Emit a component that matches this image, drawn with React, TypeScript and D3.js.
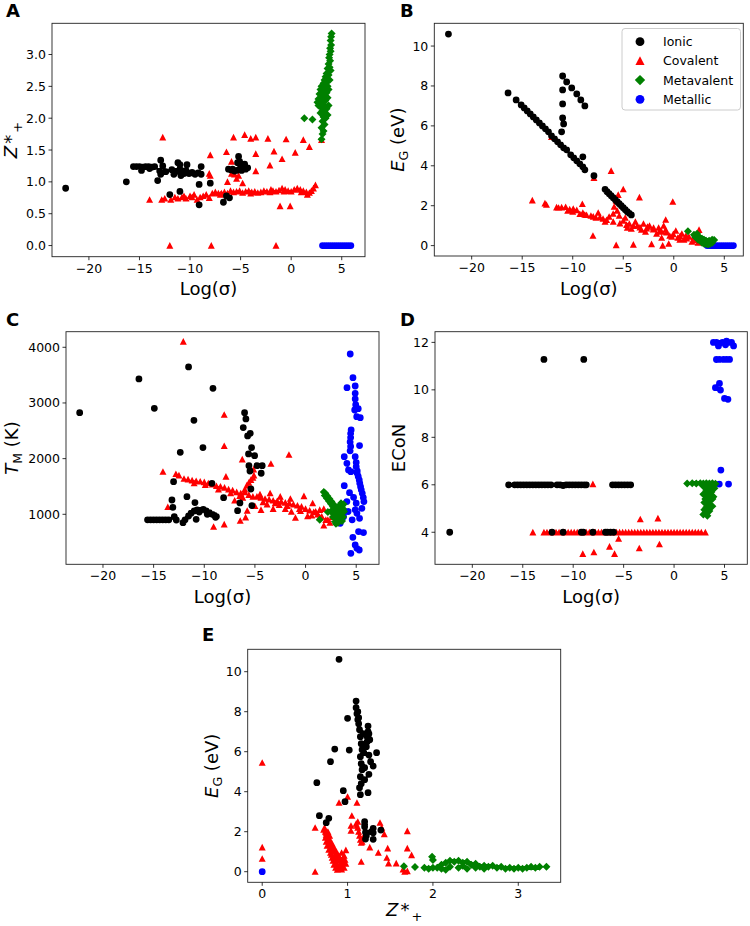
import React from 'react';
import * as d3 from 'd3';

type Pt = [number, number];

// ---------------- Panel A: Log(σ) vs Z*+ ----------------
const ionicA: Pt[] = [
  [-22.3, 0.9], [-16.3, 1.0],
  [-15.6, 1.24], [-15.3, 1.24], [-15.0, 1.24], [-14.7, 1.23], [-14.4, 1.24], [-14.1, 1.24], [-13.8, 1.23], [-13.5, 1.24], [-14.8, 1.18], [-14.0, 1.21],
  [-13.2, 1.02], [-12.9, 1.34], [-12.7, 1.25], [-13.0, 1.17], [-12.9, 1.12], [-12.4, 1.16],
  [-11.8, 1.19], [-11.5, 1.15], [-11.3, 1.17], [-11.0, 1.27], [-11.0, 1.2], [-10.8, 1.15], [-10.6, 1.13], [-10.4, 1.18], [-10.1, 1.13], [-9.8, 1.15], [-9.5, 1.12], [-9.2, 1.14], [-8.9, 1.12], [-8.9, 1.24], [-11.2, 1.3], [-10.3, 1.27], [-11.6, 1.12], [-10.9, 1.1], [-9.6, 1.13],
  [-12.0, 0.8], [-11.0, 0.85], [-9.1, 0.96], [-8.0, 0.98], [-9.1, 0.64], [-6.7, 0.68], [-6.4, 0.78], [-6.1, 0.75],
  [-6.2, 1.2], [-6.0, 1.19], [-5.8, 1.2], [-5.7, 1.18], [-5.4, 1.18], [-5.2, 1.4], [-5.3, 1.3], [-5.0, 1.25], [-4.9, 1.18], [-4.6, 1.28], [-4.5, 1.2], [-4.3, 1.22], [-5.6, 1.17], [-5.1, 1.32],
];
const covalentA: Pt[] = [
  [-12.0, 0], [-7.9, 0], [-1.5, 0],
  [-12.7, 1.7], [-8.0, 1.42], [-6.4, 1.47], [-5.7, 1.7], [-4.6, 1.74], [-4.0, 1.68], [-3.5, 1.7], [-2.3, 1.68], [-0.5, 1.67], [1.2, 1.66], [1.8, 1.55], [-1.7, 1.48], [0.4, 1.46], [-3.5, 1.44], [-2.1, 1.26], [-0.9, 1.36], [-3.5, 1.17], [-5.9, 1.32], [-8.1, 1.13], [-8.0, 1.1], [-6.3, 1.0], [-5.4, 1.05], [-5.6, 1.12], [-5.2, 1.1], [-4.8, 0.98], [-5.9, 1.13],
  [-1.1, 0.62], [-0.1, 0.62], [3.0, 1.66],
  [-14.0, 0.72], [-12.8, 0.72], [-12.5, 0.74], [-11.9, 0.72], [-11.5, 0.76], [-11.2, 0.74], [-10.8, 0.76], [-10.4, 0.74], [-10.0, 0.78], [-9.6, 0.8], [-9.3, 0.72], [-9.0, 0.76], [-8.7, 0.78], [-8.4, 0.8], [-8.1, 0.75], [-7.8, 0.82], [-7.5, 0.84], [-7.2, 0.82], [-6.9, 0.82], [-6.6, 0.84], [-6.3, 0.82], [-6.0, 0.86], [-5.7, 0.84], [-5.4, 0.85], [-5.1, 0.86], [-4.8, 0.83], [-4.5, 0.85], [-4.2, 0.86], [-3.9, 0.84], [-3.6, 0.85], [-3.3, 0.83], [-3.0, 0.84], [-2.7, 0.86], [-2.4, 0.85], [-2.1, 0.84], [-1.8, 0.86], [-1.5, 0.85], [-1.2, 0.87], [-0.9, 0.9], [-0.6, 0.88], [-0.3, 0.86], [0.0, 0.85], [0.3, 0.88], [0.6, 0.9], [0.9, 0.88], [1.2, 0.86], [1.5, 0.84], [1.8, 0.83], [2.0, 0.86], [2.2, 0.9], [2.4, 0.95],
  [-10.6, 0.78], [-9.8, 0.76], [-7.0, 0.8], [-4.0, 0.82], [-2.0, 0.88], [-0.7, 0.85], [1.0, 0.84], [1.6, 0.8],
];
const metavalentA: Pt[] = [
  [4.0, 3.33], [3.95, 3.28], [3.9, 3.22], [3.95, 3.15], [3.85, 3.1], [3.9, 3.05], [3.8, 3.0], [3.75, 2.95], [3.85, 2.9], [3.7, 2.85], [3.8, 2.8], [3.6, 2.78], [3.9, 2.75], [3.5, 2.7], [3.7, 2.68], [3.4, 2.65], [3.8, 2.6], [3.3, 2.6], [3.55, 2.58], [3.2, 2.55], [3.6, 2.5], [3.0, 2.5], [3.4, 2.48], [3.7, 2.45], [2.9, 2.45], [3.2, 2.42], [3.5, 2.4], [2.8, 2.38], [3.05, 2.35], [3.3, 2.35], [3.6, 2.32], [2.7, 2.3], [3.0, 2.28], [3.4, 2.28], [2.6, 2.25], [3.2, 2.22], [3.7, 2.2], [2.7, 2.2], [2.9, 2.18], [3.5, 2.15], [3.1, 2.12], [3.3, 2.1], [2.9, 2.08], [3.6, 2.05], [3.2, 2.02], [3.4, 2.0], [2.1, 1.98], [1.3, 2.0], [3.1, 1.95], [3.3, 1.9], [3.0, 1.85], [3.2, 1.8], [3.1, 1.75], [3.0, 1.67],
];
const metallicA: Pt[] = [
  [3.1, 0], [3.3, 0], [3.5, 0], [3.7, 0], [3.9, 0], [4.1, 0], [4.3, 0], [4.5, 0], [4.7, 0], [4.9, 0], [5.1, 0], [5.3, 0], [5.5, 0], [5.7, 0], [5.9, 0],
];

// ---------------- Panel B: Log(σ) vs E_G ----------------
const ionicB: Pt[] = [
  [-22.3, 10.6],
  [-16.4, 7.65], [-15.6, 7.3], [-15.1, 7.05], [-14.8, 6.9], [-14.5, 6.75], [-14.2, 6.6], [-13.9, 6.45], [-13.6, 6.3], [-13.3, 6.15], [-13.0, 6.0], [-12.7, 5.85], [-12.4, 5.7], [-12.1, 5.5], [-11.8, 5.35], [-11.5, 5.2], [-11.2, 5.05], [-10.9, 4.9], [-10.6, 4.8], [-10.2, 4.55], [-9.9, 4.4], [-9.6, 4.25], [-9.3, 4.1], [-9.0, 3.95], [-8.8, 3.8],
  [-11.0, 8.5], [-11.0, 7.8], [-11.0, 7.1], [-11.0, 6.4], [-10.9, 6.1], [-11.1, 5.7],
  [-10.6, 8.2], [-10.1, 7.9], [-9.6, 7.6], [-9.2, 7.3], [-8.8, 7.0],
  [-9.0, 4.45], [-7.9, 3.5],
  [-6.8, 2.82], [-6.6, 2.7], [-6.4, 2.6], [-6.2, 2.5], [-6.0, 2.4], [-5.8, 2.3], [-5.6, 2.2], [-5.4, 2.1], [-5.2, 2.0], [-5.0, 1.9], [-4.8, 1.8], [-4.6, 1.7], [-4.4, 1.62], [-4.2, 1.54],
];
const covalentB: Pt[] = [
  [-14.0, 2.27], [-12.75, 2.12], [-12.6, 2.05], [-11.6, 1.92], [-11.1, 1.92], [-10.7, 1.94], [-10.3, 1.82], [-9.95, 1.85], [-9.6, 1.78], [-9.05, 2.09], [-9.29, 1.59], [-8.63, 1.54], [-7.97, 1.46], [-7.48, 1.65], [-7.31, 1.42], [-6.65, 1.29], [-5.99, 1.2], [-5.33, 1.12], [-4.67, 1.04], [-4.0, 0.99], [-3.35, 0.92], [-2.69, 0.87], [-2.03, 0.82], [-1.37, 0.75], [-0.71, 0.67], [-0.05, 0.58], [0.62, 0.48], [1.28, 0.37], [1.94, 0.28], [2.5, 0.79],
  [-12.1, 5.45], [-7.9, 3.4], [-6.2, 3.75], [-5.0, 2.83], [-5.9, 1.95], [-5.7, 2.25], [-5.5, 2.55], [-3.4, 2.42], [-0.1, 2.2], [-8.0, 0.5], [-5.7, 0.03], [-4.0, 0.05], [-2.2, 0.08], [-1.1, 0.0], [-0.5, 0.1],
  [-10.0, 1.7], [-9.0, 1.65], [-8.2, 1.5], [-7.0, 1.35], [-6.4, 1.45], [-6.0, 1.6], [-5.6, 1.75], [-5.4, 1.5], [-5.0, 1.25], [-4.8, 1.4], [-4.4, 1.1], [-4.2, 0.85], [-3.8, 1.2], [-3.6, 1.0], [-3.0, 1.1], [-2.8, 0.7], [-2.4, 1.0], [-2.0, 0.9], [-1.7, 0.6], [-1.5, 0.9], [-1.0, 1.0], [-0.8, 0.8], [-0.4, 0.5], [0.2, 0.75], [0.4, 0.4], [0.8, 0.6], [1.0, 0.3], [1.5, 0.45], [1.8, 0.2], [2.2, 0.35], [2.4, 0.15], [-11.4, 1.9], [-10.5, 1.75], [-8.8, 1.55], [-7.7, 1.4], [-6.8, 1.2], [-4.6, 0.9], [-3.2, 0.8], [-2.6, 0.95], [-1.2, 0.7], [-0.2, 0.45], [0.6, 0.3], [1.2, 0.5], [2.0, 0.45], [-1.2, 0.4], [-0.8, 1.3],
];
const metavalentB: Pt[] = [
  [1.4, 0.72], [2.0, 0.55], [2.1, 0.45], [2.2, 0.52], [2.3, 0.6], [2.4, 0.45], [2.5, 0.35], [2.6, 0.4], [2.7, 0.3], [2.8, 0.35], [2.9, 0.25], [3.0, 0.3], [3.1, 0.2], [3.2, 0.25], [3.3, 0.15], [3.4, 0.2], [3.5, 0.25], [3.6, 0.2], [3.7, 0.25], [3.8, 0.3], [3.9, 0.25], [4.0, 0.28], [2.8, 0.15], [3.0, 0.1], [3.2, 0.08], [3.4, 0.05], [3.6, 0.1], [2.6, 0.25], [2.4, 0.3], [3.8, 0.15],
];
const metallicB: Pt[] = [
  [3.3, 0], [3.5, 0], [3.7, 0], [3.9, 0], [4.1, 0], [4.3, 0], [4.5, 0], [4.7, 0], [4.9, 0], [5.1, 0], [5.3, 0], [5.5, 0], [5.7, 0], [5.9, 0],
];

// ---------------- Panel C: Log(σ) vs T_M ----------------
const ionicC: Pt[] = [
  [-22.3, 2826], [-16.45, 3431], [-14.93, 2904], [-11.55, 3647], [-11.02, 2689], [-10.13, 2198], [-9.14, 3263], [-9.24, 1557], [-8.09, 1299], [-8.88, 946],
  [-15.6, 900], [-15.3, 900], [-15.0, 900], [-14.7, 900], [-14.4, 900], [-14.1, 900], [-13.8, 900], [-13.5, 900],
  [-13.19, 1257], [-13.03, 1587], [-13.1, 1126], [-12.96, 958], [-12.76, 898], [-12.37, 2114], [-12.1, 850], [-11.71, 1317], [-11.55, 970], [-11.9, 900], [-10.92, 1210], [-10.8, 910],
  [-11.3, 1020], [-11.0, 1060], [-10.7, 1080], [-10.4, 1070], [-10.1, 1090], [-9.8, 1060], [-9.5, 1030], [-9.2, 1000], [-9.0, 980], [-8.8, 960], [-10.5, 1040], [-9.7, 1000],
  [-6.02, 2826], [-5.89, 2713], [-6.15, 2557], [-5.72, 2407], [-5.46, 2455], [-5.33, 2198], [-5.63, 2084], [-5.03, 2054], [-5.59, 1874], [-5.49, 1778], [-4.8, 1874], [-4.28, 1874], [-4.38, 1737], [-5.4, 1455], [-5.3, 1156], [-6.48, 1204], [-6.71, 1066],
];
const covalentC: Pt[] = [
  [-12.07, 4102], [-8.03, 2790], [-8.03, 2228], [-1.64, 2072], [-3.42, 1910], [-14.08, 1766], [-12.8, 1725], [-9.08, 778], [-8.03, 820], [-6.45, 886], [-5.92, 946], [-5.76, 1066], [-6.25, 1988], [-5.13, 1808], [-7.86, 1677], [-13.6, 1132], [-0.16, 1329],
  [-12.5, 1700], [-12.0, 1640], [-11.6, 1630], [-11.2, 1610], [-10.8, 1600], [-10.4, 1590], [-10.0, 1580], [-9.6, 1560], [-9.2, 1540], [-8.8, 1510], [-8.4, 1500], [-8.0, 1480], [-7.6, 1450], [-7.2, 1430], [-6.8, 1400], [-6.4, 1380], [-6.0, 1400], [-5.6, 1350], [-5.2, 1320], [-4.8, 1320], [-4.4, 1300], [-4.0, 1280], [-3.6, 1270], [-3.2, 1250], [-2.8, 1240], [-2.4, 1230], [-2.0, 1210], [-1.6, 1200], [-1.2, 1180], [-0.8, 1160], [-0.4, 1140], [0.0, 1100], [0.4, 1070], [0.8, 1040], [1.2, 1000], [1.6, 960], [2.0, 900], [2.4, 850],
  [-6.0, 1450], [-5.8, 1520], [-5.6, 1570], [-5.4, 1620], [-5.2, 1660], [-5.1, 1700],
  [-7.0, 1250], [-6.5, 1330], [-5.0, 1150], [-4.4, 1080], [-3.8, 1180], [-3.2, 1100], [-2.6, 1170], [-2.0, 1100], [-1.4, 1050], [-1.0, 940], [-0.5, 1060], [0.2, 970], [0.7, 1200], [1.0, 1050], [1.4, 950], [1.8, 800], [2.2, 900], [2.6, 950], [-4.5, 1360], [-3.5, 1380], [-2.5, 1320], [-1.5, 1280], [1.8, 1100],
  [-11.0, 1560], [-9.9, 1530], [-8.6, 1450], [-7.4, 1380], [-6.2, 1300], [-4.2, 1220], [-3.0, 1200], [-1.8, 1150], [-0.6, 1100], [0.6, 980], [1.4, 1080],
];
const metavalentC: Pt[] = [
  [1.8, 1400], [2.0, 1350], [2.2, 1300], [2.4, 1250], [2.6, 1200], [2.8, 1150], [3.0, 1100], [3.2, 1060], [3.4, 1020], [1.95, 1380], [2.15, 1330], [2.35, 1280], [2.55, 1230], [2.75, 1180], [1.9, 1340], [2.1, 1290], [2.3, 1240], [2.5, 1190], [2.7, 1140], [2.9, 1090], [3.1, 1040],
  [3.6, 1150], [3.7, 1100], [3.8, 1050], [3.5, 1000], [3.3, 950], [3.1, 900], [2.9, 870], [3.2, 850], [3.5, 900], [3.7, 950], [2.7, 950], [2.8, 1000], [3.0, 1000], [3.4, 1080], [2.5, 1050], [1.4, 900], [2.2, 1040], [3.6, 880], [3.0, 830], [3.3, 1120], [3.6, 1050], [3.5, 1200], [3.75, 1180], [3.4, 1160],
];
const metallicC: Pt[] = [
  [4.41, 3879], [4.68, 3454], [4.09, 3274], [4.9, 3305], [4.9, 3173], [4.9, 3072], [4.95, 2970], [4.85, 2874], [5.2, 2898], [5.05, 2754], [5.4, 2736],
  [4.5, 2515], [4.45, 2450], [4.45, 2380], [4.4, 2300], [4.45, 2220], [4.4, 2140], [3.82, 2036], [4.08, 1916], [4.24, 1796], [4.47, 1766], [3.82, 1515], [4.08, 1228], [4.34, 1389], [4.74, 1305], [5.33, 2234], [4.9, 2036], [5.0, 1930], [5.0, 1856], [5.1, 1780], [5.1, 1737], [5.2, 1680], [5.3, 1617], [5.35, 1560], [5.43, 1497], [5.5, 1440], [5.6, 1377], [5.7, 1300], [5.76, 1228], [5.07, 1018], [5.33, 928], [5.56, 1108], [3.75, 958], [5.23, 689], [5.72, 671], [4.67, 587], [4.9, 449], [5.07, 389], [5.3, 359], [4.47, 299], [3.42, 838], [4.2, 1050], [4.9, 1080], [5.0, 1200], [4.6, 900],
];

// ---------------- Panel D: Log(σ) vs ECoN ----------------
const ionicD: Pt[] = [
  [-22.24, 4], [-12.9, 11.28], [-8.95, 11.28],
  [-16.4, 6], [-15.8, 6], [-15.5, 6], [-15.2, 6], [-14.9, 6], [-14.6, 6], [-14.3, 6], [-14.0, 6], [-13.7, 6], [-13.4, 6], [-13.1, 6], [-12.8, 6], [-12.5, 6], [-12.2, 6], [-11.6, 6], [-11.3, 6], [-11.0, 5.97], [-10.7, 6], [-10.4, 6], [-10.1, 6], [-9.8, 6], [-9.5, 6], [-9.2, 6], [-8.9, 6], [-8.7, 6],
  [-6.1, 6], [-5.8, 6], [-5.5, 6], [-5.2, 6], [-4.9, 6], [-4.6, 6], [-4.3, 6],
  [-12.1, 4], [-11.0, 4], [-9.2, 4], [-9.0, 4], [-8.05, 4], [-6.8, 4], [-6.6, 4], [-6.3, 4], [-6.0, 4],
];
const covalentD: Pt[] = [
  [-14.0, 4], [-12.9, 4], [-12.6, 4], [-12.3, 4], [-12.0, 4], [-11.7, 4], [-11.4, 4], [-11.1, 4], [-10.8, 4], [-10.5, 4], [-10.2, 4], [-9.9, 4], [-9.6, 4], [-9.3, 4], [-9.0, 4], [-8.7, 4], [-8.4, 4], [-8.1, 4], [-7.8, 4], [-7.5, 4], [-7.2, 4], [-6.9, 4], [-6.6, 4], [-6.3, 4], [-6.0, 4], [-5.7, 4], [-5.4, 4], [-5.1, 4], [-4.8, 4], [-4.5, 4], [-4.2, 4], [-3.9, 4], [-3.6, 4], [-3.3, 4], [-3.0, 4], [-2.7, 4], [-2.4, 4], [-2.1, 4], [-1.8, 4], [-1.5, 4], [-1.2, 4], [-0.9, 4], [-0.6, 4], [-0.3, 4], [0.0, 4], [0.3, 4], [0.6, 4], [0.9, 4], [1.2, 4], [1.5, 4], [1.8, 4], [2.1, 4], [2.4, 4], [2.7, 4], [3.1, 4],
  [-8.05, 6.03], [-3.35, 4.55], [-1.6, 4.59], [-5.5, 3.73], [-6.4, 3.4], [-3.45, 3.33], [-1.45, 3.5], [-9.05, 3.09], [-7.95, 3.16], [-5.9, 3.09],
];
const metavalentD: Pt[] = [
  [1.3, 6.05], [1.8, 6.06], [2.2, 6.05], [2.6, 6.06], [2.9, 6.05], [3.2, 6.06], [3.5, 6.05], [3.8, 6.06], [4.1, 6.04],
  [3.0, 5.9], [3.5, 5.9], [4.0, 5.85], [3.2, 5.75], [3.7, 5.7], [2.9, 5.6], [3.4, 5.55], [3.9, 5.5], [3.1, 5.4], [3.6, 5.35], [3.0, 5.25], [3.4, 5.2], [3.8, 5.1], [3.2, 5.05], [3.0, 4.95], [3.5, 4.9], [3.2, 4.8], [2.9, 4.75], [3.3, 4.7], [3.8, 5.4], [3.3, 5.8], [3.6, 5.6], [3.9, 5.95],
];
const metallicD: Pt[] = [
  [3.9, 12], [4.2, 12], [4.5, 11.95], [4.8, 12], [5.1, 11.9], [5.4, 12], [5.7, 12], [5.9, 11.85], [4.4, 11.85], [5.2, 12.05],
  [4.2, 11.28], [4.5, 11.28], [4.9, 11.28], [5.2, 11.28], [5.5, 11.28],
  [4.5, 10.27], [4.1, 10.09], [4.6, 9.99], [5.0, 9.64], [5.34, 9.6],
  [4.64, 6.62], [4.48, 6.03], [5.4, 6.03],
];

// ---------------- Panel E: Z*+ vs E_G ----------------
const ionicE: Pt[] = [
  [0.9, 10.62], [1.1, 8.53], [1.1, 8.2], [1.11, 7.9], [1.0, 7.67], [1.12, 7.6], [1.13, 7.4], [1.14, 7.1], [1.24, 7.28], [1.24, 7.0], [1.23, 6.75], [1.23, 6.5], [1.22, 6.25], [1.15, 6.75], [1.16, 6.4], [1.17, 6.1], [1.34, 5.95], [1.25, 5.83], [1.15, 5.75], [1.3, 5.28], [1.16, 5.4], [1.17, 5.1], [1.25, 4.87], [1.15, 4.75], [1.16, 4.4], [1.14, 4.2], [1.24, 3.95], [1.15, 3.85], [1.02, 6.08], [0.85, 6.13], [0.8, 5.5], [0.64, 4.45], [0.95, 4.05], [0.97, 3.5], [0.67, 2.8], [0.78, 2.67], [0.75, 2.45],
  [1.2, 2.5], [1.2, 2.25], [1.21, 1.97], [1.21, 1.63], [1.3, 2.17], [1.3, 1.95], [1.3, 1.62], [1.39, 2.08], [1.2, 2.35], [1.22, 1.8], [1.28, 2.0], [1.18, 6.9], [1.19, 5.95], [1.2, 5.2], [1.2, 4.6], [1.26, 6.6], [1.27, 5.5], [1.18, 6.3], [1.12, 8.0], [1.13, 7.7], [1.25, 6.9],
];
const covalentE: Pt[] = [
  [0, 5.45], [0, 1.22], [0, 0.65], [0.62, 0], [0.62, 2.2], [0.9, 3.45], [1.0, 3.75], [1.11, 3.45], [1.05, 2.8], [1.04, 2.3], [1.04, 2.05], [0.98, 1.08],
  [0.73, 2.2], [0.74, 2.0], [0.75, 1.85], [0.76, 1.7], [0.77, 1.55], [0.78, 1.4], [0.8, 1.3], [0.8, 1.55], [0.82, 1.15], [0.82, 1.4], [0.84, 1.0], [0.84, 1.2], [0.86, 0.85], [0.86, 1.05], [0.88, 0.7], [0.88, 0.9], [0.9, 0.55], [0.9, 0.75], [0.92, 0.4], [0.92, 0.6], [0.94, 0.3], [0.94, 0.5], [0.96, 0.2], [0.86, 0.2], [0.88, 0.1], [0.84, 0.35], [0.82, 0.7], [0.8, 0.95], [0.78, 1.1], [0.76, 1.3], [0.75, 1.5], [0.74, 1.7], [0.96, 0.8], [0.98, 0.4], [0.86, 0.5], [0.9, 0.15], [0.93, 0.95], [0.79, 1.8], [0.77, 2.0],
  [0.72, 2.1], [0.75, 1.95], [0.77, 1.75], [0.79, 1.6], [0.81, 1.45], [0.83, 1.3], [0.85, 1.15], [0.87, 1.0], [0.89, 0.85], [0.91, 0.7], [0.93, 0.55], [0.95, 0.4], [0.97, 0.6], [0.83, 0.55], [0.85, 0.7], [0.81, 0.85], [0.87, 0.35], [0.91, 0.25], [0.93, 0.12], [0.95, 0.65],
  [1.1, 2.4], [1.12, 2.2], [1.13, 2.0], [1.14, 1.8], [1.15, 1.6], [1.16, 1.45], [1.12, 2.5], [1.17, 1.5], [1.18, 1.7], [1.11, 2.3],
  [1.16, 0.5], [1.26, 1.22], [1.38, 2.45], [1.43, 1.88], [1.36, 0.95], [1.46, 0.7], [1.47, 1.17], [1.48, 0.42], [1.57, 0.42], [1.65, 0.12], [1.7, 0.03], [1.7, 1.17], [1.7, 2.03], [1.75, 0.83], [1.67, 0.0], [1.4, 2.2],
];
const metavalentE: Pt[] = [
  [1.66, 0.27], [1.79, 0.24], [1.99, 0.75], [2.0, 0.58], [1.9, 0.2], [1.95, 0.15], [2.05, 0.2], [2.1, 0.35], [2.15, 0.45], [2.2, 0.55], [2.25, 0.5], [2.3, 0.55], [2.35, 0.45], [2.4, 0.5], [2.45, 0.35], [2.5, 0.4], [2.55, 0.25], [2.6, 0.3], [2.65, 0.25], [2.7, 0.3], [2.75, 0.2], [2.8, 0.25], [2.85, 0.15], [2.9, 0.2], [2.95, 0.15], [3.0, 0.2], [3.05, 0.15], [3.1, 0.2], [3.15, 0.25], [3.2, 0.2], [3.25, 0.25], [3.33, 0.25], [2.2, 0.25], [2.3, 0.2], [2.4, 0.15], [2.5, 0.2], [2.15, 0.1], [2.35, 0.3], [2.6, 0.15], [2.0, 0.2], [2.1, 0.15],
];
const metallicE: Pt[] = [[0, 0]];

// ---------------- Tick labels ----------------
const logTicks = [-20, -15, -10, -5, 0, 5];
const zTicksA = [0, 0.5, 1.0, 1.5, 2.0, 2.5, 3.0];
const egTicks = [0, 2, 4, 6, 8, 10];
const tmTicks = [1000, 2000, 3000, 4000];
const econTicks = [4, 6, 8, 10, 12];
const zTicksE = [0, 1, 2, 3];
const legendLabels = ['Ionic', 'Covalent', 'Metavalent', 'Metallic'];

type Kind = 'ionic' | 'covalent' | 'metavalent' | 'metallic';
const COLORS: Record<Kind, string> = { ionic: '#000000', covalent: '#ff0000', metavalent: '#008000', metallic: '#0000ff' };
const FONT = 'DejaVu Sans, sans-serif';

function markerPath(kind: Kind, x: number, y: number, s = 1): string {
  if (kind === 'covalent') {
    const h = 3.5 * s;
    return `M${x},${y - h}L${x + h},${y + h * 0.9}L${x - h},${y + h * 0.9}Z`;
  }
  if (kind === 'metavalent') {
    const h = 4.0 * s;
    return `M${x},${y - h}L${x + h},${y}L${x},${y + h}L${x - h},${y}Z`;
  }
  const r = 3.4 * s;
  return `M${x - r},${y}a${r},${r} 0 1,0 ${2 * r},0a${r},${r} 0 1,0 ${-2 * r},0Z`;
}

type Series = { kind: Kind; data: Pt[] };
type PanelDef = {
  letter: string;
  letterPos: [number, number];
  frame: [number, number, number, number];
  xd: [number, number];
  yd: [number, number];
  xt: number[];
  yt: number[];
  xfmt: (v: number) => string;
  yfmt: (v: number) => string;
  xlabel: React.ReactNode;
  xlabelY: number;
  ylabel: React.ReactNode;
  ylabelX: number;
  series: Series[];
  legend?: boolean;
};

const minus = (v: number) => (v < 0 ? '\u2212' + Math.abs(v) : String(v));

const LogLabel = <>Log(σ)</>;
const ZLabel = (
  <>
    <tspan fontStyle="italic">Z</tspan>
    <tspan dx="2">*</tspan>
    <tspan dx="2" dy="5" fontSize="13">+</tspan>
  </>
);
const EGLabel = (
  <>
    <tspan fontStyle="italic">E</tspan>
    <tspan dy="4" fontSize="12.5">G</tspan>
    <tspan dy="-4"> (eV)</tspan>
  </>
);
const TMLabel = (
  <>
    <tspan fontStyle="italic">T</tspan>
    <tspan dy="4" fontSize="12.5">M</tspan>
    <tspan dy="-4"> (K)</tspan>
  </>
);

const panels: PanelDef[] = [
  {
    letter: 'A', letterPos: [6, 17], frame: [52, 23.3, 365, 256.7], xd: [-23.65, 7.3], yd: [-0.175, 3.49],
    xt: logTicks, yt: zTicksA, xfmt: minus, yfmt: (v) => v.toFixed(1),
    xlabel: LogLabel, xlabelY: 295, ylabel: ZLabel, ylabelX: 17,
    series: [
      { kind: 'covalent', data: covalentA }, { kind: 'metallic', data: metallicA },
      { kind: 'metavalent', data: metavalentA }, { kind: 'ionic', data: ionicA },
    ],
  },
  {
    letter: 'B', letterPos: [400, 17], frame: [434.3, 23.3, 743.3, 256], xd: [-23.7, 6.88], yd: [-0.52, 11.14],
    xt: logTicks, yt: egTicks, xfmt: minus, yfmt: (v) => String(v),
    xlabel: LogLabel, xlabelY: 294.5, ylabel: EGLabel, ylabelX: 404,
    series: [
      { kind: 'covalent', data: covalentB }, { kind: 'metallic', data: metallicB },
      { kind: 'metavalent', data: metavalentB }, { kind: 'ionic', data: ionicB },
    ],
    legend: true,
  },
  {
    letter: 'C', letterPos: [6, 326], frame: [66, 331.7, 379, 564.3], xd: [-23.65, 7.25], yd: [102, 4280],
    xt: logTicks, yt: tmTicks, xfmt: minus, yfmt: (v) => String(v),
    xlabel: LogLabel, xlabelY: 603, ylabel: TMLabel, ylabelX: 18,
    series: [
      { kind: 'covalent', data: covalentC }, { kind: 'metallic', data: metallicC },
      { kind: 'metavalent', data: metavalentC }, { kind: 'ionic', data: ionicC },
    ],
  },
  {
    letter: 'D', letterPos: [400, 326], frame: [435, 331.7, 747.3, 564.3], xd: [-23.7, 7.26], yd: [2.65, 12.45],
    xt: logTicks, yt: econTicks, xfmt: minus, yfmt: (v) => String(v),
    xlabel: LogLabel, xlabelY: 603, ylabel: <>ECoN</>, ylabelX: 405,
    series: [
      { kind: 'covalent', data: covalentD }, { kind: 'metallic', data: metallicD },
      { kind: 'metavalent', data: metavalentD }, { kind: 'ionic', data: ionicD },
    ],
  },
  {
    letter: 'E', letterPos: [202, 641], frame: [247.7, 649.3, 560.7, 882.3], xd: [-0.17, 3.497], yd: [-0.53, 11.12],
    xt: zTicksE, yt: egTicks, xfmt: (v) => String(v), yfmt: (v) => String(v),
    xlabel: ZLabel, xlabelY: 916, ylabel: EGLabel, ylabelX: 218,
    series: [
      { kind: 'covalent', data: covalentE }, { kind: 'metallic', data: metallicE },
      { kind: 'metavalent', data: metavalentE }, { kind: 'ionic', data: ionicE },
    ],
  },
];

function Panel({ p }: { p: PanelDef }) {
  const [x0, y0, x1, y1] = p.frame;
  const xs = d3.scaleLinear().domain(p.xd).range([x0, x1]);
  const ys = d3.scaleLinear().domain(p.yd).range([y1, y0]);
  const clipId = 'clip' + p.letter;
  return (
    <g>
      <defs>
        <clipPath id={clipId}>
          <rect x={x0} y={y0} width={x1 - x0} height={y1 - y0} />
        </clipPath>
      </defs>
      <g clipPath={`url(#${clipId})`}>
        {p.series.map((s, si) => (
          <path
            key={si}
            d={s.data.map(([a, b]) => markerPath(s.kind, xs(a), ys(b))).join('')}
            fill={COLORS[s.kind]}
            stroke="none"
          />
        ))}
      </g>
      <rect x={x0} y={y0} width={x1 - x0} height={y1 - y0} fill="none" stroke="#222" strokeWidth={0.9} />
      {p.xt.map((t) => (
        <g key={'x' + t}>
          <line x1={xs(t)} x2={xs(t)} y1={y1} y2={y1 + 3.5} stroke="#000" strokeWidth={0.8} />
          <text x={xs(t)} y={y1 + 16} textAnchor="middle" fontSize={12.5} fontFamily={FONT} fill="#000">
            {p.xfmt(t)}
          </text>
        </g>
      ))}
      {p.yt.map((t) => (
        <g key={'y' + t}>
          <line x1={x0 - 3.5} x2={x0} y1={ys(t)} y2={ys(t)} stroke="#000" strokeWidth={0.8} />
          <text x={x0 - 6} y={ys(t) + 4.5} textAnchor="end" fontSize={12.5} fontFamily={FONT} fill="#000">
            {p.yfmt(t)}
          </text>
        </g>
      ))}
      <text x={(x0 + x1) / 2} y={p.xlabelY} textAnchor="middle" fontSize={18} fontFamily={FONT} fill="#000">
        {p.xlabel}
      </text>
      <text
        transform={`translate(${p.ylabelX},${(y0 + y1) / 2}) rotate(-90)`}
        textAnchor="middle"
        fontSize={18}
        fontFamily={FONT}
        fill="#000"
      >
        {p.ylabel}
      </text>
      <text x={p.letterPos[0]} y={p.letterPos[1]} fontSize={18} fontWeight="bold" fontFamily={FONT} fill="#000">
        {p.letter}
      </text>
      {p.legend && (
        <g>
          <rect x={622} y={28.5} width={118.5} height={81.5} rx={3} fill="#fff" fillOpacity={0.8} stroke="#cccccc" strokeWidth={1} />
          {(['ionic', 'covalent', 'metavalent', 'metallic'] as Kind[]).map((k, i) => {
            const cy = 41.7 + i * 19.2;
            return (
              <g key={k}>
                <path d={markerPath(k, 640, cy, 1.3)} fill={COLORS[k]} />
                <text x={663} y={cy + 4.5} fontSize={12.5} fontFamily={FONT} fill="#000">
                  {legendLabels[i]}
                </text>
              </g>
            );
          })}
        </g>
      )}
    </g>
  );
}

export default function App() {
  return (
    <svg
      width={750}
      height={926}
      viewBox="0 0 750 926"
      style={{ position: 'absolute', left: 0, top: 0, background: '#fff' }}
    >
      <rect x={0} y={0} width={750} height={926} fill="#fff" />
      {panels.map((p) => (
        <Panel key={p.letter} p={p} />
      ))}
    </svg>
  );
}
